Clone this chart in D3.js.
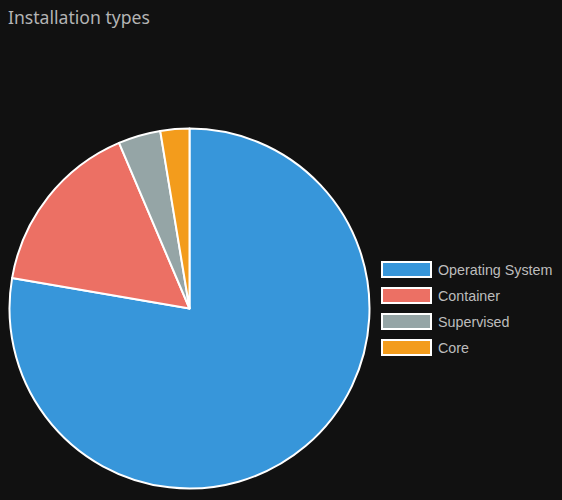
<!DOCTYPE html>
<html>
<head>
<meta charset="utf-8">
<script src="https://cdn.jsdelivr.net/npm/d3@7"></script>
<style>
  body { margin: 0; background: #111111; }
</style>
</head>
<body>
<div id="chart"></div>
<script>
var svgWidth = 562;
var svgHeight = 500;

// data (share of installs, %)
var categories = ["Operating System", "Container", "Supervised", "Core"];
var shares = [77.7, 15.9, 3.8, 2.6];
var colors = ["#3796da", "#ec7064", "#95a5a6", "#f39c1c"];

var svg = d3.select("#chart")
  .append("svg")
  .attr("width", svgWidth)
  .attr("height", svgHeight);

svg.append("rect")
  .attr("width", svgWidth)
  .attr("height", svgHeight)
  .attr("fill", "#111111");

// title
svg.append("text")
  .attr("x", 8)
  .attr("y", 24)
  .attr("fill", "#b4b4b4")
  .style("font-family", "'Noto Sans', 'Open Sans', sans-serif")
  .style("font-size", "17.6px")
  .text("Installation types");

var radius = 180;
var pieGroup = svg.append("g")
  .attr("transform", "translate(189.5, 308.5)");

var pie = d3.pie().sort(null).value(d => d);
var arc = d3.arc().innerRadius(0).outerRadius(radius);

pieGroup.selectAll("path")
  .data(pie(shares))
  .enter()
  .append("path")
  .attr("d", arc)
  .attr("fill", (d, i) => colors[i])
  .attr("stroke", "#ffffff")
  .attr("stroke-width", 2)
  .attr("stroke-linejoin", "round");

// legend
var legend = svg.append("g")
  .attr("transform", "translate(382, 262)");

var rows = legend.selectAll("g")
  .data(categories)
  .enter()
  .append("g")
  .attr("transform", (d, i) => `translate(0, ${i * 26})`);

rows.append("rect")
  .attr("width", 49)
  .attr("height", 15)
  .attr("fill", (d, i) => colors[i])
  .attr("stroke", "#ffffff")
  .attr("stroke-width", 2);

rows.append("text")
  .attr("x", 56)
  .attr("y", 12.5)
  .attr("fill", "#bdbdbd")
  .style("font-family", "'Liberation Sans', Arial, sans-serif")
  .style("font-size", "14.3px")
  .text(d => d);
</script>
</body>
</html>
